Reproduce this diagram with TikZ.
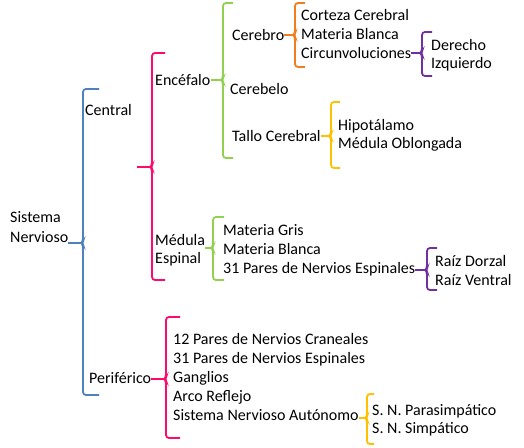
\documentclass[tikz,border=0pt]{standalone}
\usepackage{fontspec}
\setmainfont{Carlito}
\usetikzlibrary{positioning}
\definecolor{brblue}{HTML}{4F81BD}
\definecolor{brpink}{HTML}{FF0A6C}
\definecolor{brgreen}{HTML}{92D050}
\definecolor{brorange}{HTML}{F07D1E}
\definecolor{brpurple}{HTML}{7030A0}
\definecolor{bryellow}{HTML}{FFC000}
\tikzset{
	lbl/.style={anchor=base west, inner sep=0pt, font=\fontsize{16}{19}\selectfont}
}
\tikzset{
	brline/.style={line width=1.8pt, rounded corners=3pt},
	conn/.style={line width=1.8pt}
}
\newcommand{\bracket}[7]{%
  \draw[#2, brline] (#3+#7,#4) -- (#3,#4) -- (#3,#6-2) -- (#3-1.5,#6) -- (#3,#6+2) -- (#3,#5) -- (#3+#7,#5);
  \coordinate (#1) at (#3-1.5,#6);
}

\begin{document}
\begin{tikzpicture}[x=1pt, y=-1pt]
  \useasboundingbox (0,0) rectangle (524,447);
  \node[lbl] (sist) at (10,222) {Sistema};
  \node[lbl] (nerv) at (10,242) {Nervioso};
  \node[lbl] (cent) at (85,115) {Central};
  \node[lbl] (peri) at (89,383) {Periférico};
  \node[lbl] (ence) at (155,85) {Encéfalo};
  \node[lbl] (medu) at (155,245) {Médula};
  \node[lbl] (espi) at (155,263) {Espinal};
  \node[lbl] (cbro) at (232,40) {Cerebro};
  \node[lbl] (cblo) at (230,94) {Cerebelo};
  \node[lbl] (tall) at (232,141) {Tallo Cerebral};
  \node[lbl] (cort) at (301,20) {Corteza Cerebral};
  \node[lbl] (mbla) at (301,39) {Materia Blanca};
  \node[lbl] (circ) at (301,58) {Circunvoluciones};
  \node[lbl] (dere) at (431,50) {Derecho};
  \node[lbl] (izqu) at (431,68) {Izquierdo};
  \node[lbl] (hipo) at (338,130) {Hipotálamo};
  \node[lbl] (oblo) at (338,148) {Médula Oblongada};
  \node[lbl] (mgri) at (223,235) {Materia Gris};
  \node[lbl] (mbl2) at (223,254) {Materia Blanca};
  \node[lbl] (nesp) at (223,273) {31 Pares de Nervios Espinales};
  \node[lbl] (rdor) at (435,266) {Raíz Dorzal};
  \node[lbl] (rven) at (435,285) {Raíz Ventral};
  \node[lbl] (ncra) at (173,344) {12 Pares de Nervios Craneales};
  \node[lbl] (nes2) at (173,363) {31 Pares de Nervios Espinales};
  \node[lbl] (gang) at (173,382) {Ganglios};
  \node[lbl] (arco) at (173,401) {Arco Reflejo};
  \node[lbl] (auto) at (173,420) {Sistema Nervioso Autónomo};
  \node[lbl] (para) at (372,415) {S. N. Parasimpático};
  \node[lbl] (simp) at (372,433) {S. N. Simpático};
  \bracket{bA}{brblue}{83}{89}{395}{243}{16}
  \bracket{bB}{brpink}{152}{53}{280}{167}{13}
  \bracket{bC}{brgreen}{223}{3}{158}{80}{10}
  \bracket{bD}{brorange}{295}{3}{67}{35}{10}
  \bracket{bE}{brpurple}{422}{32}{76}{53}{10}
  \bracket{bF}{bryellow}{331}{102}{168}{136}{9}
  \bracket{bG}{brgreen}{213}{217}{280}{248}{11}
  \bracket{bH}{brpurple}{427}{248}{290}{270}{10}
  \bracket{bI}{brpink}{166}{317}{438}{379}{14}
  \bracket{bJ}{bryellow}{367}{394}{444}{418}{7}
  \coordinate (bBfree) at (137,167);
  \draw[brblue, conn] (nerv.east |- bA) -- (bA);
  \draw[brpink, conn] (bBfree) -- (bB);
  \draw[brgreen, conn] (ence.east |- bC) -- (bC);
  \draw[brorange, conn] (cbro.east |- bD) -- (bD);
  \draw[brpurple, conn] (circ.east |- bE) -- (bE);
  \draw[bryellow, conn] (tall.east |- bF) -- (bF);
  \draw[brgreen, conn] (medu.east |- bG) -- (bG);
  \draw[brpurple, conn] (nesp.east |- bH) -- (bH);
  \draw[brpink, conn] (peri.east |- bI) -- (bI);
  \draw[bryellow, conn] (auto.east |- bJ) -- (bJ);
\end{tikzpicture}
\end{document}
